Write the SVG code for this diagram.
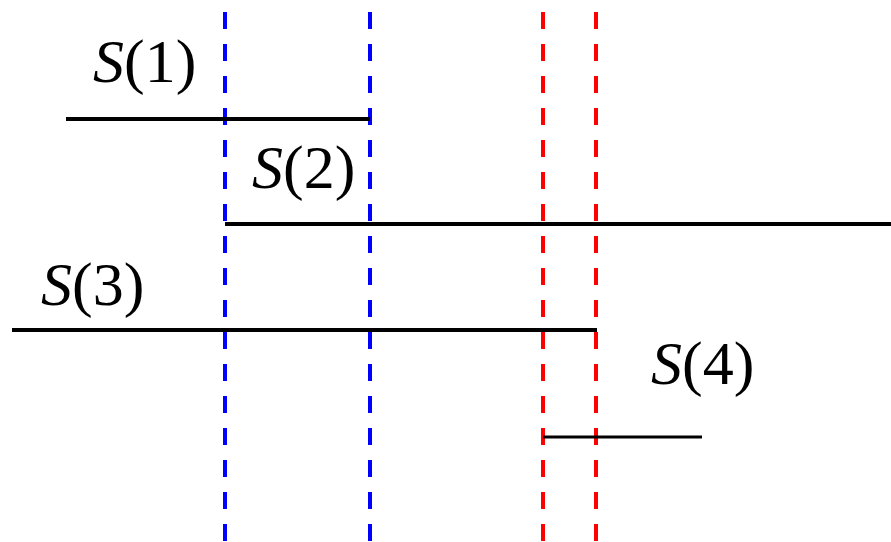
<svg xmlns="http://www.w3.org/2000/svg" width="891" height="542" viewBox="0 0 891 542">
<style>
.seg{stroke:#000;stroke-width:4;fill:none}
.thin{stroke-width:3}
.blue{stroke:#0000ff;stroke-width:4;stroke-dasharray:17 15;fill:none}
.red{stroke:#ff0000;stroke-width:4;stroke-dasharray:17 15;fill:none}
.lbl{font-family:'Liberation Serif','Times New Roman',serif;font-size:62px;fill:#000}
.it{font-style:italic}
</style>
<rect width="891" height="542" fill="#fff"/>
<g id="connectors">
<line class="blue" x1="225" y1="12" x2="225" y2="542"/>
<line class="blue" x1="370" y1="12" x2="370" y2="542"/>
<line class="red" x1="543" y1="12" x2="543" y2="542"/>
<line class="red" x1="596" y1="12" x2="596" y2="542"/>
</g>
<g id="s1">
<line class="seg" x1="66" y1="119" x2="370" y2="119"/>
<text class="lbl" x="93" y="82"><tspan class="it">S</tspan>(1)</text>
</g>
<g id="s2">
<line class="seg" x1="225" y1="224" x2="891" y2="224"/>
<text class="lbl" x="252" y="188"><tspan class="it">S</tspan>(2)</text>
</g>
<g id="s3">
<line class="seg" x1="12" y1="330" x2="597" y2="330"/>
<text class="lbl" x="41" y="305"><tspan class="it">S</tspan>(3)</text>
</g>
<g id="s4">
<line class="seg thin" x1="543" y1="437" x2="702" y2="437"/>
<text class="lbl" x="651" y="384"><tspan class="it">S</tspan>(4)</text>
</g>
</svg>
